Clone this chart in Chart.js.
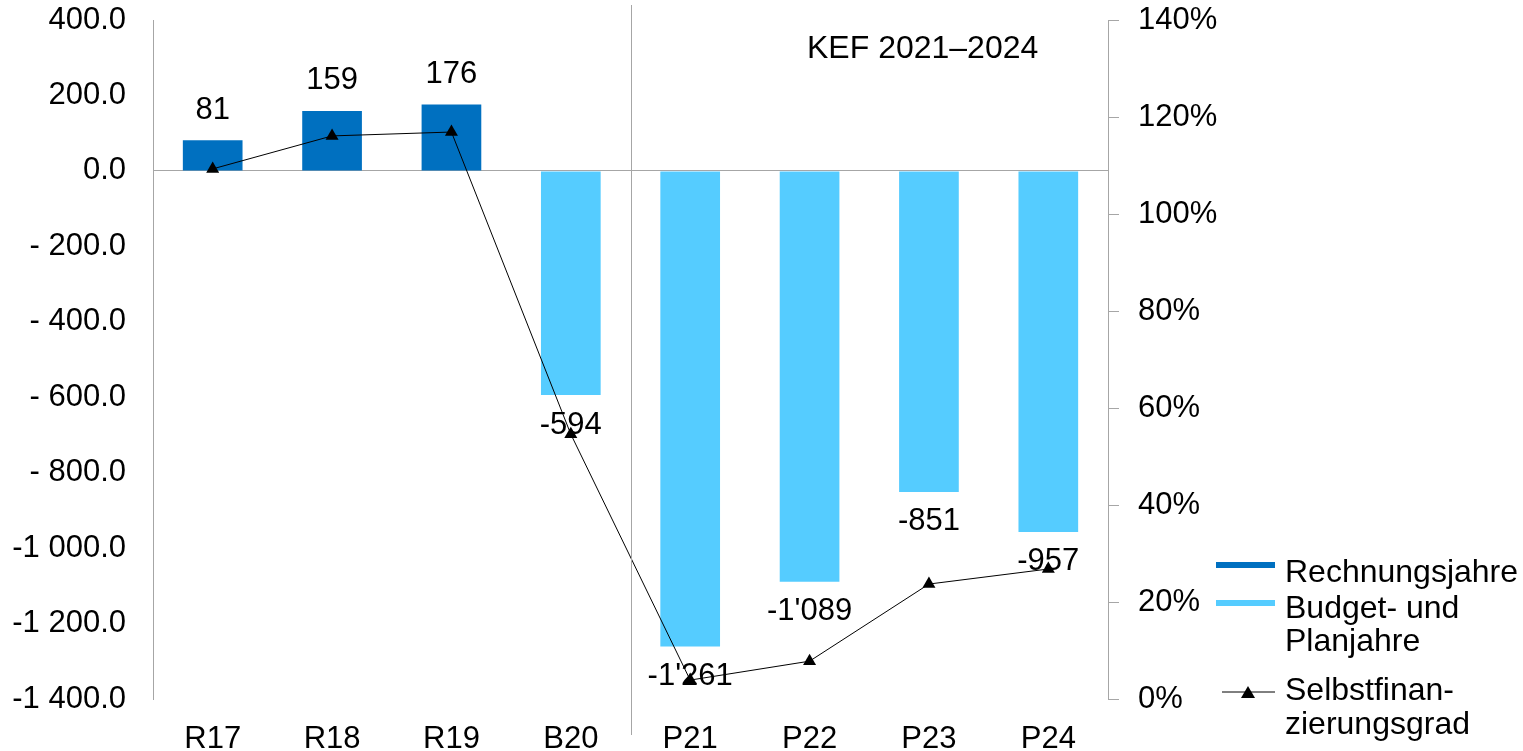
<!DOCTYPE html>
<html>
<head>
<meta charset="utf-8">
<script src="https://cdn.jsdelivr.net/npm/chart.js@4.4.1/dist/chart.umd.min.js"></script>
<style>
  html, body { margin: 0; padding: 0; background: #fff; }
  #wrap { width: 1523px; height: 751px; }
</style>
</head>
<body>
<div id="wrap"><canvas id="kefChart" width="1523" height="751"></canvas></div>
<script>
const categories = ["R17", "R18", "R19", "B20", "P21", "P22", "P23", "P24"];
const rechnungsjahre = [81, 159, 176, null, null, null, null, null];
const budgetPlanjahre = [null, null, null, -594, -1261, -1089, -851, -957];
const selbstfinanzierungsgrad = [109.3, 116.1, 116.9, 54.6, 3.9, 7.8, 23.7, 26.8];
const legendLabels = [["Rechnungsjahre"], ["Budget- und", "Planjahre"], ["Selbstfinan-", "zierungsgrad"]];
const periodLabel = "KEF 2021–2024";

const DARK = "#0070C0";
const LIGHT = "#55CCFF";
const AXIS = "#A6A6A6";
const FONT = "'Liberation Sans', Arial, sans-serif";

function groupThousands(n, sep) {
  return String(n).replace(/\B(?=(\d{3})+(?!\d))/g, sep);
}

// left axis: "400.0", "- 200.0", "-1 000.0"
function leftTick(v) {
  const abs = Math.abs(v);
  const s = groupThousands(Math.floor(abs), " ") + "." + (abs % 1).toFixed(1).slice(2);
  if (v < 0) return abs >= 1000 ? "-" + s : "- " + s;
  return s;
}

function barLabel(v) {
  const s = groupThousands(Math.abs(v), "'");
  return v < 0 ? "-" + s : s;
}

// keep the plot area fixed, no extra room for half tick labels
function noOverflow(scale) {
  scale.paddingTop = 0;
  scale.paddingBottom = 0;
}

const valueLabels = {
  id: "valueLabels",
  beforeDatasetsDraw(chart) {
    const ctx = chart.ctx;
    ctx.save();
    ctx.font = "31px " + FONT;
    ctx.fillStyle = "#000";
    ctx.textAlign = "center";
    ctx.textBaseline = "middle";
    chart.data.datasets.forEach((ds, i) => {
      if (ds.type === "line") return;
      const meta = chart.getDatasetMeta(i);
      meta.data.forEach((bar, j) => {
        const v = ds.data[j];
        if (v === null) return;
        const y = v >= 0 ? bar.y - 30 : bar.y + 30;
        ctx.fillText(barLabel(v), bar.x, y);
      });
    });
    ctx.restore();
  }
};

const extras = {
  id: "extras",
  afterDraw(chart) {
    const ctx = chart.ctx;
    const area = chart.chartArea;
    const x = chart.scales.x;
    ctx.save();

    // divider between budget year and plan years
    const xDiv = Math.round((x.getPixelForValue(3) + x.getPixelForValue(4)) / 2) + 0.5;
    ctx.strokeStyle = AXIS;
    ctx.lineWidth = 1;
    ctx.beginPath();
    ctx.moveTo(xDiv, area.top - 15);
    ctx.lineTo(xDiv, 735);
    ctx.stroke();

    ctx.fillStyle = "#000";
    ctx.font = "32px " + FONT;
    ctx.textBaseline = "alphabetic";
    ctx.textAlign = "left";
    ctx.fillText(periodLabel, 807, 58);

    // legend
    const lx = area.right + 108;
    const tx = area.right + 177;
    ctx.lineWidth = 6;
    ctx.strokeStyle = DARK;
    ctx.beginPath(); ctx.moveTo(lx, 565); ctx.lineTo(lx + 59, 565); ctx.stroke();
    ctx.strokeStyle = LIGHT;
    ctx.beginPath(); ctx.moveTo(lx, 603); ctx.lineTo(lx + 59, 603); ctx.stroke();
    ctx.lineWidth = 1;
    ctx.strokeStyle = "#000";
    ctx.beginPath(); ctx.moveTo(lx + 6, 692); ctx.lineTo(lx + 59, 692); ctx.stroke();
    ctx.beginPath();
    ctx.moveTo(lx + 32, 686);
    ctx.lineTo(lx + 39, 698);
    ctx.lineTo(lx + 25, 698);
    ctx.closePath();
    ctx.fill();

    const baselines = [[582], [618, 651], [700, 734]];
    legendLabels.forEach((lines, i) => {
      lines.forEach((t, k) => ctx.fillText(t, tx, baselines[i][k]));
    });
    ctx.restore();
  }
};

new Chart(document.getElementById("kefChart"), {
  data: {
    labels: categories,
    datasets: [
      {
        type: "line",
        label: "Selbstfinanzierungsgrad",
        data: selbstfinanzierungsgrad,
        yAxisID: "y1",
        borderColor: "#000",
        backgroundColor: "#000",
        borderWidth: 1,
        pointStyle: "triangle",
        pointRadius: 7.5,
        pointBorderWidth: 0,
        tension: 0,
        order: 0
      },
      {
        type: "bar",
        label: "Rechnungsjahre",
        data: rechnungsjahre,
        backgroundColor: DARK,
        yAxisID: "y",
        grouped: false,
        order: 1
      },
      {
        type: "bar",
        label: "Budget- und Planjahre",
        data: budgetPlanjahre,
        backgroundColor: LIGHT,
        yAxisID: "y",
        grouped: false,
        order: 1
      }
    ]
  },
  options: {
    responsive: false,
    animation: false,
    layout: { padding: { top: 20, left: 0, right: 0, bottom: 0 } },
    datasets: { bar: { barPercentage: 0.5, categoryPercentage: 1 } },
    plugins: { legend: { display: false }, tooltip: { enabled: false } },
    scales: {
      x: {
        grid: { display: false },
        border: { display: false },
        ticks: { color: "#000", font: { family: FONT, size: 31 }, padding: 14 },
        afterFit(scale) { scale.height = 52; scale.paddingLeft = 0; scale.paddingRight = 0; }
      },
      y: {
        position: "left",
        min: -1400,
        max: 400,
        border: { display: true, color: AXIS, width: 1 },
        grid: {
          drawTicks: false,
          color: (c) => (c.tick && c.tick.value === 0 ? AXIS : "rgba(0,0,0,0)")
        },
        ticks: {
          stepSize: 200,
          color: "#000",
          font: { family: FONT, size: 31 },
          padding: 27,
          callback: (v) => leftTick(v)
        },
        afterFit(scale) { scale.width = 153; noOverflow(scale); }
      },
      y1: {
        position: "right",
        min: 0,
        max: 140,
        border: { display: true, color: AXIS, width: 1 },
        grid: { drawOnChartArea: false, drawTicks: true, tickLength: 11, color: AXIS },
        ticks: {
          stepSize: 20,
          color: "#000",
          font: { family: FONT, size: 31 },
          padding: 19,
          callback: (v) => v + "%"
        },
        afterFit(scale) { scale.width = 415; noOverflow(scale); }
      }
    }
  },
  plugins: [valueLabels, extras]
});
</script>
</body>
</html>
